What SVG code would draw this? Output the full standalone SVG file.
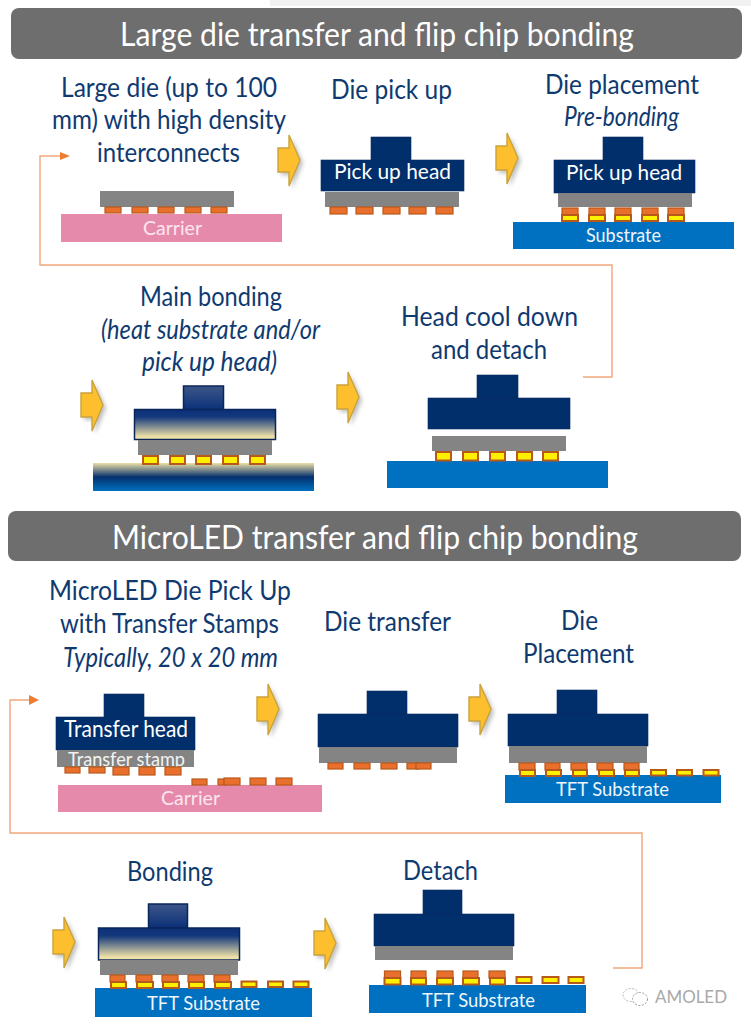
<svg xmlns="http://www.w3.org/2000/svg" xmlns:xlink="http://www.w3.org/1999/xlink" width="751" height="1027" viewBox="0 0 751 1027">
<style>
text{font-family:"Lato","Open Sans","Liberation Sans",sans-serif}
.hd{fill:#fff;font-size:33px}
.t{fill:#0f3a70;font-size:27px}
.i{font-style:italic}
.w{fill:#fff;font-size:22px}
.s{fill:#eef6fb;font-size:19px}
.c{fill:#fbe6ee;font-size:19px}
.head{fill:#002f6c;stroke:#0b2a5c;stroke-width:.6}
.hot{fill:url(#hot);stroke:#0a2559;stroke-width:1.5}
.die{fill:#848484}
.sub{fill:#0070c0}
.car{fill:#e68aab}
.o{fill:#e8702c;stroke:#b8591c;stroke-width:1.2}
.y{fill:#fff000;stroke:#b8591c;stroke-width:2}
.ln{fill:none;stroke:#f0a67a;stroke-width:1.4}
.ar{fill:#fdbf2d;stroke:#c9a33c;stroke-width:1.4}
</style>
<defs>
<linearGradient id="hot" x1="0" y1="0" x2="0" y2="1"><stop offset="0" stop-color="#0b3079"/><stop offset=".25" stop-color="#15397c"/><stop offset=".9" stop-color="#ecdfa6"/><stop offset="1" stop-color="#efe3ad"/></linearGradient>
<linearGradient id="hotTop" x1="0" y1="0" x2="0" y2="1"><stop offset="0" stop-color="#3d5688"/><stop offset="1" stop-color="#0b3079"/></linearGradient>
<linearGradient id="hotSub" x1="0" y1="0" x2="0" y2="1"><stop offset="0" stop-color="#ecdfa6"/><stop offset=".5" stop-color="#05306e"/><stop offset="1" stop-color="#0070c0"/></linearGradient>
<filter id="sh" x="-30%" y="-20%" width="170%" height="140%"><feGaussianBlur stdDeviation="2"/></filter>
<g id="arrow"><polygon points="3,16 14,16 14,3 25,28 14,54 14,40 3,40" fill="#8a8a8a" opacity=".55" filter="url(#sh)"/><polygon class="ar" points="0,13 11,13 11,0 22,25 11,51 11,37 0,37"/></g>
<clipPath id="stampClip"><rect x="57" y="745" width="137" height="22"/></clipPath>
</defs>
<rect width="751" height="1027" fill="#fff"/>
<rect x="270" y="0" width="481" height="6" fill="#f1f1f1"/>

<g id="connectors">
<polyline class="ln" points="583,377 612,377 612,265 40,265 40,156 62,156"/>
<polygon points="60,152 70,156 60,160" fill="#ed7d31"/>
<polyline class="ln" points="613,968 642,968 642,833 10,833 10,700 32,700"/>
<polygon points="29,695 39,700 29,705" fill="#ed7d31"/>
<use href="#arrow" x="278" y="135"/>
<use href="#arrow" x="496" y="133"/>
<use href="#arrow" x="81" y="380"/>
<use href="#arrow" x="337" y="372"/>
<use href="#arrow" x="257" y="684"/>
<use href="#arrow" x="469" y="684"/>
<use href="#arrow" x="53" y="917"/>
<use href="#arrow" x="314" y="918"/>
</g>

<g id="header-large">
<rect x="11" y="8" width="731" height="51" rx="8" fill="#6e6e6e"/>
<text class="hd" x="120" y="46" textLength="514" lengthAdjust="spacingAndGlyphs">Large die transfer and flip chip bonding</text>
</g>

<g id="step-large-die">
<text class="t" x="61" y="97" textLength="216" lengthAdjust="spacingAndGlyphs">Large die (up to 100</text>
<text class="t" x="52" y="129" textLength="234" lengthAdjust="spacingAndGlyphs">mm) with high density</text>
<text class="t" x="97" y="162" textLength="143" lengthAdjust="spacingAndGlyphs">interconnects</text>
<rect class="car" x="61" y="214" width="221" height="28"/>
<text class="c" x="143" y="235" textLength="59" lengthAdjust="spacingAndGlyphs">Carrier</text>
<rect class="die" x="100" y="191" width="134" height="16"/>
<rect class="o" x="105" y="207" width="16" height="6"/><rect class="o" x="132" y="207" width="16" height="6"/><rect class="o" x="158" y="207" width="16" height="6"/><rect class="o" x="185" y="207" width="16" height="6"/><rect class="o" x="211" y="207" width="16" height="6"/>
</g>

<g id="step-pick-up">
<text class="t" x="331" y="99" textLength="121" lengthAdjust="spacingAndGlyphs">Die pick up</text>
<rect class="head" x="371" y="137" width="40" height="24"/><rect class="head" x="321" y="160" width="143" height="31"/>
<text class="w" x="334" y="179" textLength="117" lengthAdjust="spacingAndGlyphs">Pick up head</text>
<rect class="die" x="325" y="192" width="134" height="15"/>
<rect class="o" x="330" y="207" width="17" height="7"/><rect class="o" x="356" y="207" width="17" height="7"/><rect class="o" x="383" y="207" width="17" height="7"/><rect class="o" x="409" y="207" width="17" height="7"/><rect class="o" x="436" y="207" width="17" height="7"/>
</g>

<g id="step-placement">
<text class="t" x="545" y="94" textLength="154" lengthAdjust="spacingAndGlyphs">Die placement</text>
<text class="t i" x="564" y="126" textLength="115" lengthAdjust="spacingAndGlyphs">Pre-bonding</text>
<rect class="head" x="603" y="137" width="40" height="24"/><rect class="head" x="554" y="160" width="141" height="33"/>
<text class="w" x="566" y="180" textLength="116" lengthAdjust="spacingAndGlyphs">Pick up head</text>
<rect class="die" x="558" y="193" width="134" height="14"/>
<rect class="sub" x="513" y="222" width="221" height="27"/>
<text class="s" x="586" y="242" textLength="75" lengthAdjust="spacingAndGlyphs">Substrate</text>
<rect class="o" x="562" y="208" width="16" height="7"/><rect class="y" x="562" y="215" width="16" height="6"/>
<rect class="o" x="589" y="208" width="16" height="7"/><rect class="y" x="589" y="215" width="16" height="6"/>
<rect class="o" x="615" y="208" width="16" height="7"/><rect class="y" x="615" y="215" width="16" height="6"/>
<rect class="o" x="642" y="208" width="16" height="7"/><rect class="y" x="642" y="215" width="16" height="6"/>
<rect class="o" x="668" y="208" width="16" height="7"/><rect class="y" x="668" y="215" width="16" height="6"/>
</g>

<g id="step-main-bonding">
<text class="t" x="140" y="306" textLength="142" lengthAdjust="spacingAndGlyphs">Main bonding</text>
<text class="t i" x="101" y="339" textLength="219" lengthAdjust="spacingAndGlyphs">(heat substrate and/or</text>
<text class="t i" x="142" y="371" textLength="135" lengthAdjust="spacingAndGlyphs">pick up head)</text>
<rect x="183.500" y="386" width="40" height="24" fill="url(#hotTop)" stroke="#0a2559" stroke-width="1.5"/>
<rect class="hot" x="134.500" y="409.500" width="141" height="30"/>
<rect class="die" x="138" y="440" width="134" height="15"/>
<rect x="93" y="463" width="221" height="28" fill="url(#hotSub)"/>
<rect class="y" x="143" y="456" width="15" height="8"/><rect class="y" x="170" y="456" width="15" height="8"/><rect class="y" x="196" y="456" width="15" height="8"/><rect class="y" x="223" y="456" width="15" height="8"/><rect class="y" x="250" y="456" width="15" height="8"/>
</g>

<g id="step-cool-down">
<text class="t" x="401" y="326" textLength="177" lengthAdjust="spacingAndGlyphs">Head cool down</text>
<text class="t" x="431" y="359" textLength="116" lengthAdjust="spacingAndGlyphs">and detach</text>
<rect class="head" x="477" y="375" width="41" height="24"/><rect class="head" x="428" y="398" width="142" height="31"/>
<rect class="die" x="432" y="436" width="134" height="15"/>
<rect class="sub" x="387" y="461" width="221" height="27"/>
<rect class="y" x="436" y="452" width="15" height="8.500"/><rect class="y" x="463" y="452" width="15" height="8.500"/><rect class="y" x="490" y="452" width="15" height="8.500"/><rect class="y" x="517" y="452" width="15" height="8.500"/><rect class="y" x="543" y="452" width="15" height="8.500"/>
</g>

<g id="header-microled">
<rect x="8" y="511" width="733" height="50" rx="8" fill="#6e6e6e"/>
<text class="hd" x="112" y="549" textLength="526" lengthAdjust="spacingAndGlyphs">MicroLED transfer and flip chip bonding</text>
</g>

<g id="step-transfer-stamps">
<text class="t" x="49" y="600" textLength="242" lengthAdjust="spacingAndGlyphs">MicroLED Die Pick Up</text>
<text class="t" x="60" y="633" textLength="219" lengthAdjust="spacingAndGlyphs">with Transfer Stamps</text>
<text class="t i" x="63" y="667" textLength="215" lengthAdjust="spacingAndGlyphs">Typically, 20 x 20 mm</text>
<rect class="head" x="104" y="694" width="40" height="24"/><rect class="head" x="56" y="717" width="139" height="33"/>
<text class="w" x="64" y="737" font-size="24" style="font-size:24px" textLength="124" lengthAdjust="spacingAndGlyphs">Transfer head</text>
<rect class="die" x="57" y="750" width="137" height="17"/>
<text class="s" clip-path="url(#stampClip)" x="68" y="766" style="font-size:20px;fill:#f3f3f3" textLength="117" lengthAdjust="spacingAndGlyphs">Transfer stamp</text>
<rect class="car" x="58" y="785" width="264" height="27"/>
<text class="c" x="161" y="805" textLength="59" lengthAdjust="spacingAndGlyphs">Carrier</text>
<rect class="o" x="65" y="767" width="15" height="6"/><rect class="o" x="89" y="767" width="16" height="6"/><rect class="o" x="113" y="767" width="16" height="8"/><rect class="o" x="139" y="767" width="16" height="8"/><rect class="o" x="165" y="767" width="16" height="8"/>
<rect class="o" x="192" y="779" width="15" height="6"/><rect class="o" x="218" y="779" width="8" height="6"/><rect class="o" x="224" y="778" width="16" height="7"/><rect class="o" x="250" y="778" width="16" height="7"/><rect class="o" x="276" y="778" width="16" height="7"/>
</g>

<g id="step-die-transfer">
<text class="t" x="324" y="631" textLength="127" lengthAdjust="spacingAndGlyphs">Die transfer</text>
<rect class="head" x="367" y="691" width="40" height="24"/><rect class="head" x="318" y="714" width="140" height="33"/>
<rect class="die" x="319" y="747" width="138" height="16"/>
<rect class="o" x="328" y="763" width="15" height="6"/><rect class="o" x="354" y="763" width="16" height="6"/><rect class="o" x="381" y="763" width="16" height="6"/><rect class="o" x="407" y="763" width="12" height="6"/><rect class="o" x="416" y="763" width="15" height="6"/>
</g>

<g id="step-die-placement">
<text class="t" x="561" y="630" textLength="37" lengthAdjust="spacingAndGlyphs">Die</text>
<text class="t" x="523" y="663" textLength="111" lengthAdjust="spacingAndGlyphs">Placement</text>
<rect class="head" x="557" y="690" width="40" height="25"/><rect class="head" x="508" y="714" width="140" height="32"/>
<rect class="die" x="509" y="746" width="138" height="17"/>
<rect class="sub" x="505" y="775" width="216" height="28"/>
<text class="s" x="556" y="796" textLength="113" lengthAdjust="spacingAndGlyphs">TFT Substrate</text>
<rect class="o" x="519" y="763" width="16" height="7"/><rect class="y" x="520" y="770" width="15" height="6"/>
<rect class="o" x="545" y="763" width="15" height="7"/><rect class="y" x="546" y="770" width="15" height="6"/>
<rect class="o" x="571" y="763" width="16" height="7"/><rect class="y" x="573" y="770" width="14" height="6"/>
<rect class="o" x="597" y="763" width="16" height="7"/><rect class="y" x="599" y="770" width="15" height="6"/>
<rect class="o" x="624" y="763" width="15" height="7"/><rect class="y" x="625" y="770" width="14" height="6"/>
<rect class="y" x="651" y="770" width="15" height="5.500"/><rect class="y" x="677" y="770" width="15" height="5.500"/><rect class="y" x="703.500" y="770" width="15" height="5.500"/>
</g>

<g id="step-bonding">
<text class="t" x="127" y="881" textLength="86" lengthAdjust="spacingAndGlyphs">Bonding</text>
<rect x="148.500" y="904" width="39" height="24" fill="url(#hotTop)" stroke="#0a2559" stroke-width="1.500"/>
<rect class="hot" x="98.500" y="928" width="141" height="32"/>
<rect class="die" x="100" y="960" width="138" height="15"/>
<rect class="sub" x="95" y="988" width="217" height="29"/>
<text class="s" x="147" y="1010" textLength="113" lengthAdjust="spacingAndGlyphs">TFT Substrate</text>
<rect class="o" x="110" y="975" width="15" height="7"/><rect class="y" x="111" y="982" width="15" height="6"/>
<rect class="o" x="136" y="975" width="16" height="7"/><rect class="y" x="137" y="982" width="16" height="6"/>
<rect class="o" x="162" y="975" width="16" height="7"/><rect class="y" x="163" y="982" width="16" height="6"/>
<rect class="o" x="188" y="975" width="16" height="7"/><rect class="y" x="189" y="982" width="15" height="6"/>
<rect class="o" x="214" y="975" width="16" height="7"/><rect class="y" x="215" y="982" width="16" height="6"/>
<rect class="y" x="241.500" y="981.500" width="15" height="5.500"/><rect class="y" x="268" y="981.500" width="15" height="5.500"/><rect class="y" x="293.500" y="981.500" width="15" height="5.500"/>
</g>

<g id="step-detach">
<text class="t" x="403" y="880" textLength="75" lengthAdjust="spacingAndGlyphs">Detach</text>
<rect class="head" x="423" y="890" width="39" height="25"/><rect class="head" x="374" y="914" width="140" height="32"/>
<rect class="die" x="375" y="946" width="138" height="14"/>
<rect class="sub" x="369" y="985" width="217" height="28"/>
<text class="s" x="422" y="1007" textLength="113" lengthAdjust="spacingAndGlyphs">TFT Substrate</text>
<rect class="o" x="384.500" y="971" width="16" height="7"/><rect class="y" x="384.500" y="978" width="16" height="6.500"/>
<rect class="o" x="411" y="971" width="15" height="7"/><rect class="y" x="411" y="978" width="15" height="6.500"/>
<rect class="o" x="437" y="971" width="16" height="7"/><rect class="y" x="437" y="978" width="16" height="6.500"/>
<rect class="o" x="463" y="971" width="15" height="7"/><rect class="y" x="463" y="978" width="16" height="6.500"/>
<rect class="o" x="489" y="971" width="16" height="7"/><rect class="y" x="490" y="978" width="15" height="6.500"/>
<rect class="y" x="516.500" y="977" width="15" height="6"/><rect class="y" x="542.500" y="977" width="16" height="6"/><rect class="y" x="568.500" y="977" width="15" height="6"/>
</g>

<g id="watermark">
<ellipse cx="631" cy="995" rx="8" ry="6.500" fill="none" stroke="#b5b5b5" stroke-width="1" stroke-dasharray="2 1.500"/>
<ellipse cx="640" cy="999" rx="7.500" ry="6.500" fill="#fff" stroke="#9a9a9a" stroke-width="1" stroke-dasharray="2 1.500"/>
<text x="655" y="1003" style="font-size:17px;fill:#a8a8a8" textLength="72" lengthAdjust="spacingAndGlyphs">AMOLED</text>
</g>
</svg>
